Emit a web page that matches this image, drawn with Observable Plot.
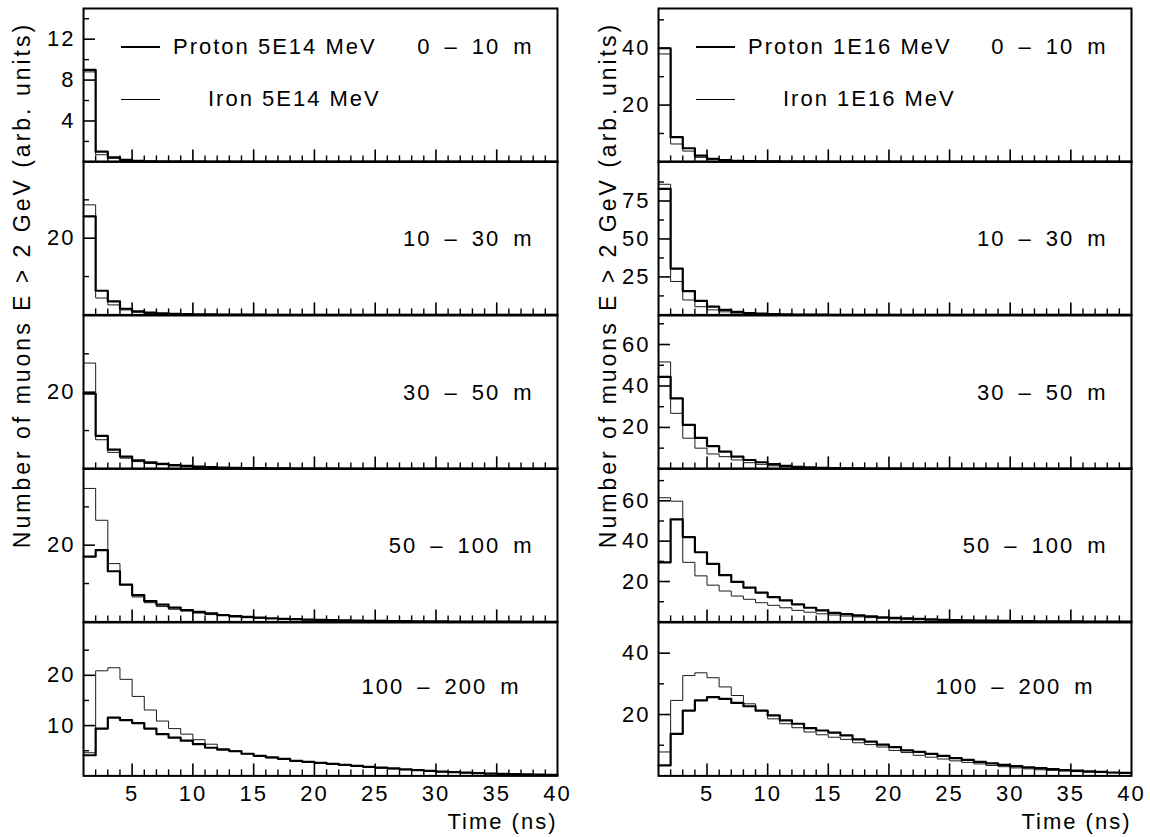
<!DOCTYPE html>
<html><head><meta charset="utf-8">
<script src="https://cdn.jsdelivr.net/npm/d3@7"></script>
<script src="https://cdn.jsdelivr.net/npm/@observablehq/plot@0.6"></script>
<style>
body{margin:0;background:#fff;}
#chart{position:relative;width:1150px;height:837px;font-family:"Liberation Sans",Arial,sans-serif;color:#000;overflow:hidden;}
.panel{position:absolute;}
.ylab{position:absolute;white-space:nowrap;font-size:23px;letter-spacing:3px;transform:translate(-50%,-50%) rotate(-90deg);}
.leg{position:absolute;white-space:pre;font-size:22px;letter-spacing:2px;line-height:1;transform:translateY(-50%);}
.sw{position:absolute;height:0;}
</style></head><body><div id="chart"></div><script>
// ---- data ----
const binStart = [1,2,3,4,5,6,7,8,9,10,11,12,13,14,15,16,17,18,19,20,21,22,23,24,25,26,27,28,29,30,31,32,33,34,35,36,37,38,39];
const regions = ["0\u2002\u2013\u200210\u2002m","10\u2002\u2013\u200230\u2002m","30\u2002\u2013\u200250\u2002m","50\u2002\u2013\u2002100\u2002m","100\u2002\u2013\u2002200\u2002m"];
const energies = ["5E14 MeV","1E16 MeV"];
const xLabelTicks = [5,10,15,20,25,30,35,40];

// 5E14 MeV (left column)
const proton5E14_0_10 = [9.0,1.0,0.45,0.2,0.1,0.06,0.04,0.03,0.02,0.02,0.01,0.01,0.01,0.01,0.01,0,0,0,0,0,0,0,0,0,0,0,0,0,0,0,0,0,0,0,0,0,0,0,0];
const iron5E14_0_10   = [8.8,0.7,0.35,0.15,0.07,0.04,0.03,0.02,0.01,0.01,0.01,0.01,0,0,0,0,0,0,0,0,0,0,0,0,0,0,0,0,0,0,0,0,0,0,0,0,0,0,0];
const proton5E14_10_30 = [25.7,6.3,3.5,1.6,0.9,0.6,0.4,0.3,0.22,0.16,0.12,0.1,0.08,0.06,0.05,0.04,0.03,0.03,0.02,0.02,0.02,0.01,0.01,0.01,0.01,0.01,0,0,0,0,0,0,0,0,0,0,0,0,0];
const iron5E14_10_30   = [28.7,4.4,2.6,1.3,0.7,0.45,0.3,0.22,0.16,0.12,0.09,0.07,0.05,0.04,0.03,0.03,0.02,0.02,0.01,0.01,0.01,0.01,0,0,0,0,0,0,0,0,0,0,0,0,0,0,0,0,0];
const proton5E14_30_50 = [19.6,8.6,5.0,3.2,2.2,1.7,1.3,1.0,0.8,0.6,0.45,0.35,0.28,0.22,0.18,0.14,0.11,0.09,0.07,0.06,0.05,0.04,0.03,0.03,0.02,0.02,0.02,0.01,0.01,0.01,0.01,0,0,0,0,0,0,0,0];
const iron5E14_30_50   = [27.6,7.6,4.3,2.8,1.9,1.4,1.1,0.8,0.6,0.45,0.35,0.27,0.2,0.16,0.12,0.1,0.08,0.06,0.05,0.04,0.03,0.03,0.02,0.02,0.01,0.01,0.01,0.01,0,0,0,0,0,0,0,0,0,0,0];
const proton5E14_50_100 = [17.0,18.7,13.2,9.7,7.0,5.4,4.5,3.7,3.1,2.6,2.2,1.8,1.5,1.3,1.1,0.95,0.8,0.7,0.6,0.5,0.45,0.4,0.35,0.3,0.26,0.22,0.19,0.16,0.14,0.12,0.1,0.09,0.08,0.07,0.06,0.05,0.04,0.04,0.03];
const iron5E14_50_100   = [34.8,26.5,15.2,9.7,6.5,5.0,4.0,3.3,2.8,2.3,1.9,1.6,1.3,1.1,0.95,0.8,0.7,0.6,0.5,0.42,0.36,0.3,0.26,0.22,0.19,0.16,0.14,0.12,0.1,0.09,0.08,0.07,0.06,0.05,0.04,0.04,0.03,0.03,0.02];
const proton5E14_100_200 = [4.1,9.4,11.6,11.1,10.5,9.4,8.3,7.6,7.0,6.3,5.6,5.2,4.9,4.4,4.0,3.7,3.4,3.0,2.8,2.6,2.4,2.2,2.0,1.8,1.65,1.5,1.3,1.15,1.0,0.85,0.75,0.65,0.55,0.45,0.4,0.35,0.3,0.25,0.2];
const iron5E14_100_200   = [4.6,20.9,21.5,19.2,15.8,13.1,10.9,9.4,8.3,7.2,6.3,5.4,5.0,4.4,4.0,3.6,3.3,3.0,2.7,2.5,2.3,2.1,1.9,1.7,1.55,1.4,1.25,1.1,0.95,0.8,0.7,0.6,0.5,0.45,0.4,0.35,0.3,0.25,0.2];

// 1E16 MeV (right column)
const proton1E16_0_10 = [40,8.7,4.8,2.2,1.1,0.6,0.4,0.3,0.2,0.15,0.1,0.08,0.06,0.05,0.04,0.03,0.02,0.02,0.01,0.01,0,0,0,0,0,0,0,0,0,0,0,0,0,0,0,0,0,0,0];
const iron1E16_0_10   = [38,6.3,3.8,1.6,0.8,0.5,0.3,0.2,0.15,0.1,0.08,0.06,0.04,0.03,0.02,0.02,0.01,0.01,0,0,0,0,0,0,0,0,0,0,0,0,0,0,0,0,0,0,0,0,0];
const proton1E16_10_30 = [83,30.5,15.7,9.2,5.4,3.3,2.0,1.2,0.8,0.5,0.35,0.25,0.18,0.13,0.1,0.08,0.06,0.05,0.04,0.03,0.02,0.02,0.01,0.01,0,0,0,0,0,0,0,0,0,0,0,0,0,0,0];
const iron1E16_10_30   = [86,22,9.8,5.4,3.3,2.0,1.2,0.8,0.5,0.35,0.25,0.18,0.13,0.1,0.08,0.06,0.05,0.04,0.03,0.02,0.02,0.01,0.01,0,0,0,0,0,0,0,0,0,0,0,0,0,0,0,0];
const proton1E16_30_50 = [44.4,34,21.2,15,11,8.3,5.9,4.3,3.2,2.3,1.5,1.0,0.7,0.5,0.38,0.3,0.24,0.19,0.15,0.12,0.1,0.08,0.06,0.05,0.04,0.03,0.03,0.02,0.02,0.01,0.01,0.01,0,0,0,0,0,0,0];
const iron1E16_30_50   = [51.6,26.8,14.8,10,7.2,5.9,4.3,3.0,2.2,1.5,1.0,0.7,0.5,0.36,0.27,0.2,0.16,0.12,0.1,0.08,0.06,0.05,0.04,0.03,0.02,0.02,0.01,0.01,0.01,0,0,0,0,0,0,0,0,0,0];
const proton1E16_50_100 = [29.5,50.8,42,34.5,28.7,23.2,19.8,17,14.5,12.3,10.7,8.7,7.0,5.7,4.5,3.8,3.2,2.7,2.3,2.0,1.7,1.45,1.25,1.05,0.9,0.78,0.67,0.58,0.5,0.43,0.37,0.32,0.28,0.24,0.21,0.18,0.16,0.14,0.12];
const iron1E16_50_100   = [61.5,59.8,29.5,22.8,18.2,15.3,12.8,11.2,9.5,8.2,7.0,5.7,4.8,4.0,3.4,2.9,2.5,2.1,1.8,1.5,1.3,1.1,0.95,0.82,0.7,0.6,0.52,0.45,0.39,0.34,0.29,0.25,0.22,0.19,0.16,0.14,0.12,0.1,0.09];
const proton1E16_100_200 = [3.4,13.7,21.3,24.6,25.7,25.1,23.8,22.7,21.3,19.7,18.1,17.0,15.6,14.8,14.1,13.2,11.9,11.2,10.2,9.4,8.3,7.8,7.2,6.5,5.8,5.2,4.6,4.1,3.6,3.2,2.8,2.5,2.2,1.9,1.7,1.5,1.3,1.1,1.0];
const iron1E16_100_200   = [7.8,24.6,32.7,33.6,32.0,29.0,26.2,23.5,21.3,18.6,17.0,15.7,14.3,13.4,12.6,11.9,10.8,10.2,9.4,8.3,7.6,6.7,6.1,5.5,4.9,4.4,3.9,3.4,3.0,2.6,2.3,2.0,1.8,1.6,1.4,1.2,1.1,1.0,0.9];

// y-axis ranges and ticks per panel
const yMaxLeft  = [15, 40, 40, 40, 30.5];
const yMaxRight = [54, 101, 74, 76, 50];
const yLabelTicksLeft  = [[4,8,12],[20],[20],[20],[10,20]];
const yMinorTicksLeft  = [[2,6,10,14],[10,30],[10,30],[10,30],[5,15,25]];
const yLabelTicksRight = [[20,40],[25,50,75],[20,40,60],[20,40,60],[20,40]];
const yMinorTicksRight = [[10,30,50],[12.5,37.5,62.5,87.5],[10,30,50,70],[10,30,50,70],[10,30]];
const xMajorTicks = [5,10,15,20,25,30,35];
const xMinorTicks = [2,3,4,6,7,8,9,11,12,13,14,16,17,18,19,21,22,23,24,26,27,28,29,31,32,33,34,36,37,38,39];

const protonLeft  = [proton5E14_0_10, proton5E14_10_30, proton5E14_30_50, proton5E14_50_100, proton5E14_100_200];
const ironLeft    = [iron5E14_0_10, iron5E14_10_30, iron5E14_30_50, iron5E14_50_100, iron5E14_100_200];
const protonRight = [proton1E16_0_10, proton1E16_10_30, proton1E16_30_50, proton1E16_50_100, proton1E16_100_200];
const ironRight   = [iron1E16_0_10, iron1E16_10_30, iron1E16_30_50, iron1E16_50_100, iron1E16_100_200];

// ---- layout ----
const colLeft = [83, 658], colRight = [557, 1131];
const rowTop0 = 8, rowH = 153.4;
const labelDy = [38.7, 77, 77, 77, 64];
const labelDx = [-24, -24, -24, -24, -37];
const FONT = '"Liberation Sans", Arial, sans-serif';

const chart = document.getElementById("chart");

function steps(values){
  const pts = binStart.map((t,i)=>({t, v: values[i]}));
  pts.push({t: 40, v: values[values.length-1]});
  return pts;
}

function panel(col, row){
  const bottom = row === 4;
  const mL = 70, mR = 40, mT = 10, mB = bottom ? 70 : 10;
  const innerW = colRight[col] - colLeft[col];
  const innerH = rowH;
  const proton = (col ? protonRight : protonLeft)[row];
  const iron = (col ? ironRight : ironLeft)[row];
  const ymax = (col ? yMaxRight : yMaxLeft)[row];
  const majors = (col ? yLabelTicksRight : yLabelTicksLeft)[row];
  const minors = (col ? yMinorTicksRight : yMinorTicksLeft)[row];
  const marks = [
    Plot.line(steps(iron), {x:"t", y:"v", curve:"step-after", stroke:"#1a1a1a", strokeWidth:1}),
    Plot.line(steps(proton), {x:"t", y:"v", curve:"step-after", stroke:"#000", strokeWidth:2.2}),
    Plot.tickX(xMinorTicks, {x: d=>d, insetTop: innerH-6, stroke:"#000", strokeWidth:1.4}),
    Plot.tickX(xMajorTicks, {x: d=>d, insetTop: innerH-12, stroke:"#000", strokeWidth:1.6}),
    Plot.tickY(minors, {y: d=>d, insetRight: innerW-6, stroke:"#000", strokeWidth:1.4}),
    Plot.tickY(majors, {y: d=>d, insetRight: innerW-12, stroke:"#000", strokeWidth:1.6}),
    Plot.axisY({ticks: majors, tickSize:0, tickPadding:8, label:null, fontSize:22}),
    Plot.frame({stroke:"#000", strokeWidth:2}),
    Plot.text([regions[row]], {frameAnchor:"top-right", dx:labelDx[row], dy:labelDy[row], textAnchor:"end", lineAnchor:"middle", fontSize:22})
  ];
  if (bottom) {
    marks.push(Plot.axisX({ticks: xLabelTicks, tickSize:0, tickPadding:9, label:null, fontSize:22}));
    marks.push(Plot.text(["Time (ns)"], {frameAnchor:"bottom-right", dy:46, textAnchor:"end", lineAnchor:"middle", fontSize:22}));
  }
  const p = Plot.plot({
    width: innerW + mL + mR, height: innerH + mT + mB,
    marginLeft: mL, marginRight: mR, marginTop: mT, marginBottom: mB,
    x: {domain: [1, 40], axis: null},
    y: {domain: [0, ymax], axis: null},
    style: {fontFamily: FONT, fontSize: "22px", letterSpacing: "2px", background: "transparent", overflow: "visible", color:"#000"},
    marks
  });
  p.classList.add("panel");
  p.style.left = (colLeft[col] - mL) + "px";
  p.style.top = (rowTop0 + row*rowH - mT) + "px";
  chart.appendChild(p);
}

for (let c = 0; c < 2; c++) for (let r = 0; r < 5; r++) panel(c, r);

// y-axis titles
[22, 608].forEach(x => {
  const d = document.createElement("div");
  d.className = "ylab";
  d.textContent = "Number of muons E > 2 GeV (arb. units)";
  d.style.left = x + "px"; d.style.top = "285px";
  chart.appendChild(d);
});

// legends in the top panels
function legend(col){
  const x0 = colLeft[col];
  const items = [
    {name: "Proton " + energies[col], y: 46.7, w: 2.2, tx: 90},
    {name: "Iron " + energies[col], y: 99, w: 1, tx: 125}
  ];
  items.forEach(it => {
    const s = document.createElement("div");
    s.className = "sw";
    s.style.left = (x0 + 38) + "px"; s.style.width = "39px";
    s.style.top = (it.y - it.w/2) + "px";
    s.style.borderTop = it.w + "px solid #000";
    chart.appendChild(s);
    const t = document.createElement("div");
    t.className = "leg";
    t.textContent = it.name;
    t.style.left = (x0 + it.tx) + "px"; t.style.top = it.y + "px";
    chart.appendChild(t);
  });
}
legend(0); legend(1);
</script></body></html>
